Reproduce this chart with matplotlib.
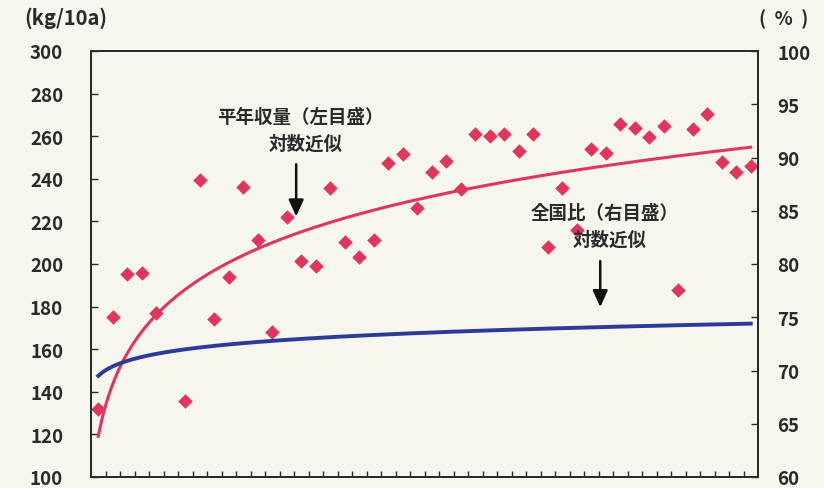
import numpy as np
import matplotlib
matplotlib.use("Agg")
import matplotlib.pyplot as plt

plt.rcParams['font.family'] = ['Noto Sans CJK JP', 'DejaVu Sans']

# Yearly yield (kg/10a); None = no record for that year
yield_kg = [131.9, 175.2, 195.2, 195.7, 176.9, None, 135.8, 239.5, 174.1, 193.7,
            236.3, 211.2, 168.2, 222.3, 201.3, 199.1, 235.6, 210.1, 203.1, 211.3,
            247.6, 251.7, 226.2, 243.0, 248.4, 235.1, 260.9, 260.1, 260.9, 253.1,
            260.9, 208.2, 235.9, 216.0, 254.2, 251.9, 265.9, 263.7, 259.4, 264.8,
            187.7, 263.3, 270.6, 247.9, 243.2, 246.0]

# Logarithmic trend of the normal-year yield (kg/10a): a + b*ln(n)
yield_log_a = 119.1
yield_log_b = 35.45
# Logarithmic trend of the ratio to the national average (%): a + b*ln(n)
ratio_log_a = 69.5
ratio_log_b = 1.28

left_ticks = [100, 120, 140, 160, 180, 200, 220, 240, 260, 280, 300]
right_ticks = [60, 65, 70, 75, 80, 85, 90, 95, 100]

red = '#e0365c'
blue = '#2d3a98'
ink = '#2a2a2a'
bg = '#f6f6ef'

n = len(yield_kg)
idx = np.arange(1, n + 1)
y = np.array([np.nan if v is None else v for v in yield_kg], dtype=float)
ok = ~np.isnan(y)

t = np.linspace(1, n, 400)
yield_trend = yield_log_a + yield_log_b * np.log(t)
ratio_trend = ratio_log_a + ratio_log_b * np.log(t)

fig = plt.figure(figsize=(8.24, 4.89), dpi=100, facecolor=bg)
ax = fig.add_axes([91 / 824, 11 / 489, 667 / 824, 426 / 489])
ax.set_facecolor(bg)
ax2 = ax.twinx()

ax.set_xlim(0, n)
ax.set_ylim(100, 300)
ax2.set_ylim(60, 100)

ax.scatter(idx[ok] - 0.5, y[ok], marker='D', s=55, color=red, zorder=4, linewidths=0)
ax.plot(t - 0.5, yield_trend, color=red, lw=2.2, zorder=3)
ax2.plot(t - 0.5, ratio_trend, color=blue, lw=2.8, zorder=3)

for a in (ax, ax2):
    for s in a.spines.values():
        s.set_color(ink)
        s.set_linewidth(1.4)
ax.spines['top'].set_color('#555555')
ax.spines['top'].set_linewidth(1.2)

ax.set_yticks(left_ticks)
ax.set_yticklabels([str(v) for v in left_ticks])
ax2.set_yticks(right_ticks)
ax2.set_yticklabels([str(v) for v in right_ticks])
ax.set_xticks(np.arange(1, n))
ax.set_xticklabels([])

ax.tick_params(axis='x', direction='in', length=4, width=1, color=ink)
ax.tick_params(axis='y', direction='in', length=5, width=1, color=ink,
               labelsize=13.5, labelcolor=ink, pad=20)
ax2.tick_params(axis='y', direction='in', length=5, width=1, color=ink,
                labelsize=13.5, labelcolor=ink, pad=14)
for lab in ax.get_yticklabels() + ax2.get_yticklabels():
    lab.set_fontweight('bold')

fig.text(66 / 824, 1 - 18 / 489, '(kg/10a)', ha='center', va='center',
         fontsize=14.5, fontweight='bold', color=ink)
fig.text(784 / 824, 1 - 19 / 489, '(  %  )', ha='center', va='center',
         fontsize=13.5, fontweight='bold', color=ink)


def note(axis, xs, ys, lines, x_arrow, arrow_from, arrow_to):
    for xx, yy, text in zip(xs, ys, lines):
        axis.text(xx, yy, text, ha='center', va='center', fontsize=13.3,
                  fontweight='bold', color=ink)
    axis.annotate('', xy=(x_arrow, arrow_to), xytext=(x_arrow, arrow_from),
                  arrowprops=dict(arrowstyle='-|>,head_width=0.45,head_length=1.0',
                                  color='#111111', lw=1.8, shrinkA=0, shrinkB=0))


note(ax, [14.45, 14.8], [269.4, 256.7], ['平年収量（左目盛）', '対数近似'],
     14.15, 246.8, 222.3)
note(ax2, [35.43, 35.74], [84.86, 82.33], ['全国比（右目盛）', '対数近似'],
     35.12, 80.27, 75.95)

fig.savefig('out.png', dpi=100, facecolor=bg)
